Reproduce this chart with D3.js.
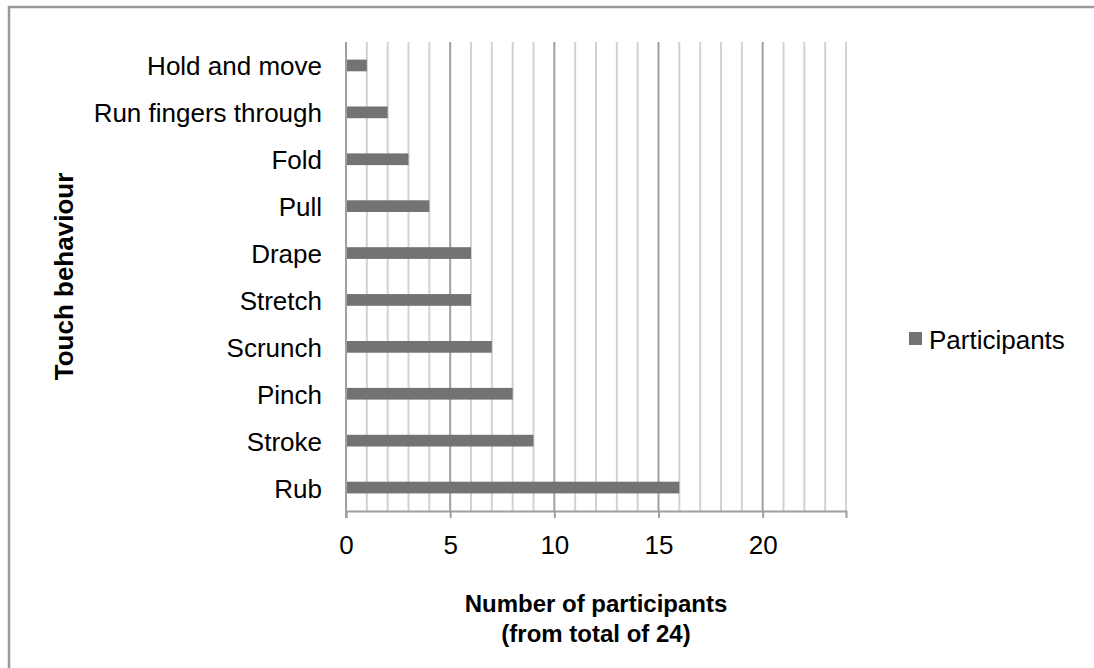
<!DOCTYPE html>
<meta charset="utf-8">
<title>Touch behaviour</title>
<style>

body {
  margin: 0;
  background: #fff;
}

text {
  font-family: "Liberation Sans", Arial, sans-serif;
  fill: #000;
}

</style>
<svg width="1094" height="668"></svg>
<script src="https://d3js.org/d3.v7.min.js"></script>
<script>
// categories top to bottom, and the count for each one
var behaviours = ["Hold and move", "Run fingers through", "Fold", "Pull", "Drape",
                  "Stretch", "Scrunch", "Pinch", "Stroke", "Rub"];
var participants = [1, 2, 3, 4, 6, 6, 7, 8, 9, 16];
var xTicks = [0, 5, 10, 15, 20];
var xMax = 24;
var seriesName = "Participants";

var svg = d3.select("svg");

// grey frame round the whole chart (only top and left show)
svg.append("rect")
    .attr("x", 9)
    .attr("y", 7)
    .attr("width", 1200)
    .attr("height", 800)
    .attr("fill", "none")
    .attr("stroke", "#9a9a9a")
    .attr("stroke-width", 2.5);

// plot box (not called top/left: those clash with window globals)
var plotL = 346, plotR = 846, plotT = 42, plotB = 511;

var x = d3.scaleLinear()
    .domain([0, xMax])
    .range([plotL, plotR]);

var y = d3.scaleBand()
    .domain(behaviours)
    .range([plotT, plotB]);

var barH = y.bandwidth() * 0.25;

// vertical gridlines, one per unit, darker every 5
svg.append("g")
  .selectAll("line")
  .data(d3.range(1, xMax + 1))
  .enter().append("line")
    .attr("x1", function(d) { return x(d); })
    .attr("x2", function(d) { return x(d); })
    .attr("y1", plotT)
    .attr("y2", plotB)
    .attr("stroke", function(d) { return d % 5 === 0 ? "#a0a0a0" : "#d2d2d2"; })
    .attr("stroke-width", 2);

// bars
svg.append("g")
  .selectAll("rect")
  .data(participants)
  .enter().append("rect")
    .attr("x", x(0))
    .attr("y", function(d, i) { return y(behaviours[i]) + (y.bandwidth() - barH) / 2; })
    .attr("width", function(d) { return x(d) - x(0); })
    .attr("height", barH)
    .attr("fill", "#737373");

// x axis
var xAxis = svg.append("g")
    .attr("transform", "translate(0," + plotB + ")")
    .call(d3.axisBottom(x).tickValues(xTicks).tickSize(7).tickPadding(18).tickFormat(d3.format("d")));
xAxis.select(".domain").attr("stroke", "#a0a0a0").attr("stroke-width", 2);
xAxis.selectAll(".tick line").attr("stroke", "#a0a0a0").attr("stroke-width", 2);
xAxis.selectAll(".tick text")
    .attr("font-size", 26)
    .attr("font-family", "Liberation Sans, Arial, sans-serif")
    .attr("fill", "#000");

// y axis line
svg.append("line")
    .attr("x1", x(0))
    .attr("x2", x(0))
    .attr("y1", plotT)
    .attr("y2", plotB + 7)
    .attr("stroke", "#a0a0a0")
    .attr("stroke-width", 2);

// category labels
svg.append("g")
  .selectAll("text")
  .data(behaviours)
  .enter().append("text")
    .attr("x", 322)
    .attr("y", function(d) { return y(d) + y.bandwidth() / 2 + 10; })
    .attr("text-anchor", "end")
    .attr("font-size", 26)
    .text(function(d) { return d; });

// axis titles
svg.append("text")
    .attr("transform", "translate(73," + (plotT + plotB) / 2 + ") rotate(-90)")
    .attr("text-anchor", "middle")
    .attr("font-size", 26)
    .attr("font-weight", "bold")
    .text("Touch behaviour");

var xTitle = svg.append("text")
    .attr("text-anchor", "middle")
    .attr("font-size", 24)
    .attr("font-weight", "bold");
xTitle.append("tspan").attr("x", (plotL + plotR) / 2).attr("y", 612).text("Number of participants");
xTitle.append("tspan").attr("x", (plotL + plotR) / 2).attr("y", 642).text("(from total of 24)");

// legend
svg.append("rect")
    .attr("x", 909)
    .attr("y", 332)
    .attr("width", 13)
    .attr("height", 13)
    .attr("fill", "#737373");
svg.append("text")
    .attr("x", 929)
    .attr("y", 349)
    .attr("font-size", 26)
    .text(seriesName);
</script>
